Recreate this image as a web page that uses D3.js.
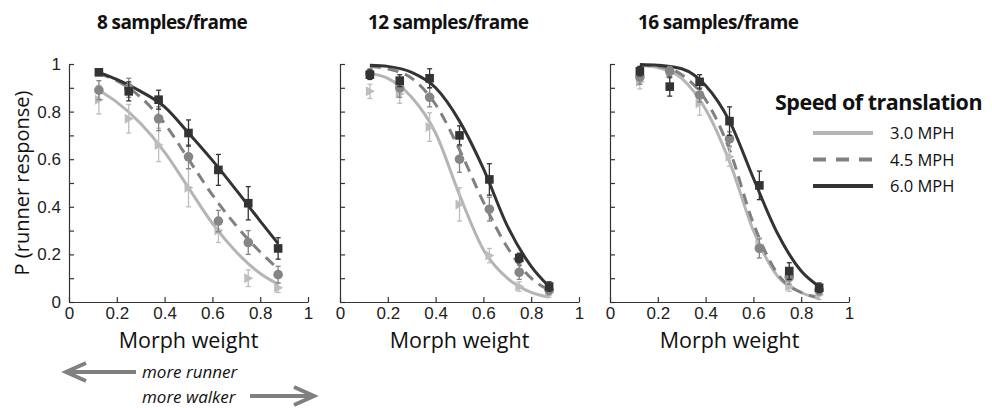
<!DOCTYPE html>
<html>
<head>
<meta charset="utf-8">
<script src="https://cdn.jsdelivr.net/npm/d3@7"></script>
<style>
  body { margin: 0; background: #fff; }
  svg { font-family: "Open Sans", "Noto Sans", sans-serif; }
</style>
</head>
<body>
<div id="chart"></div>
<script>
// morph weights where observers were tested
const morphX = [0.125, 0.25, 0.375, 0.5, 0.625, 0.75, 0.875];
// points
const fitX = [0.125, 0.2, 0.3, 0.4, 0.5, 0.6, 0.7, 0.8, 0.875];
const panelTitles = ["8 samples/frame", "12 samples/frame", "16 samples/frame"];
const speeds = ["3.0 MPH", "4.5 MPH", "6.0 MPH"];
const tickLabels = [0, 0.2, 0.4, 0.6, 0.8, 1];

// 8 samples/frame
const mean8_30 = [0.85, 0.77, 0.66, 0.48, 0.30, 0.10, 0.06];
const err8_30 = [0.06, 0.06, 0.07, 0.08, 0.05, 0.035, 0.02];
const mean8_45 = [0.89, 0.90, 0.77, 0.61, 0.34, 0.25, 0.115];
const err8_45 = [0.04, 0.04, 0.05, 0.05, 0.045, 0.05, 0.035];
const mean8_60 = [0.965, 0.885, 0.85, 0.71, 0.555, 0.415, 0.225];
const err8_60 = [0.01, 0.04, 0.04, 0.055, 0.065, 0.07, 0.045];
const fit8_30 = [0.89, 0.84, 0.75, 0.63, 0.48, 0.33, 0.21, 0.12, 0.075];
const fit8_45 = [0.96, 0.93, 0.86, 0.75, 0.60, 0.45, 0.32, 0.21, 0.14];
const fit8_60 = [0.965, 0.935, 0.885, 0.82, 0.71, 0.595, 0.47, 0.34, 0.245];

// 12 samples/frame
const mean12_30 = [0.885, 0.875, 0.735, 0.41, 0.195, 0.065, 0.04];
const err12_30 = [0.03, 0.04, 0.06, 0.07, 0.03, 0.02, 0.02];
const mean12_45 = [0.96, 0.90, 0.86, 0.60, 0.39, 0.125, 0.05];
const err12_45 = [0.02, 0.04, 0.04, 0.055, 0.05, 0.03, 0.02];
const mean12_60 = [0.955, 0.93, 0.94, 0.70, 0.515, 0.185, 0.065];
const err12_60 = [0.02, 0.025, 0.04, 0.04, 0.066, 0.02, 0.02];
const fit12_30 = [0.96, 0.94, 0.86, 0.71, 0.45, 0.22, 0.10, 0.04, 0.02];
const fit12_45 = [0.99, 0.98, 0.94, 0.83, 0.64, 0.42, 0.23, 0.10, 0.05];
const fit12_60 = [0.995, 0.99, 0.965, 0.90, 0.76, 0.56, 0.32, 0.15, 0.065];

// 16 samples/frame
const mean16_30 = [0.925, 0.96, 0.835, 0.61, 0.24, 0.065, 0.03];
const err16_30 = [0.03, 0.02, 0.05, 0.04, 0.03, 0.02, 0.02];
const mean16_45 = [0.945, 0.97, 0.87, 0.685, 0.225, 0.105, 0.05];
const err16_45 = [0.03, 0.02, 0.03, 0.03, 0.04, 0.03, 0.02];
const mean16_60 = [0.97, 0.905, 0.925, 0.76, 0.49, 0.13, 0.06];
const err16_60 = [0.02, 0.04, 0.03, 0.06, 0.06, 0.035, 0.02];
const fit16_30 = [0.995, 0.985, 0.94, 0.81, 0.59, 0.30, 0.11, 0.04, 0.015];
const fit16_45 = [0.995, 0.99, 0.955, 0.85, 0.64, 0.33, 0.12, 0.04, 0.02];
const fit16_60 = [0.998, 0.995, 0.98, 0.91, 0.76, 0.52, 0.29, 0.13, 0.065];

const panels = [
    { means: [mean8_30, mean8_45, mean8_60], errs: [err8_30, err8_45, err8_60], fits: [fit8_30, fit8_45, fit8_60] },
    { means: [mean12_30, mean12_45, mean12_60], errs: [err12_30, err12_45, err12_60], fits: [fit12_30, fit12_45, fit12_60] },
    { means: [mean16_30, mean16_45, mean16_60], errs: [err16_30, err16_45, err16_60], fits: [fit16_30, fit16_45, fit16_60] }
];

const lineColors = ["#b5b5b5", "#808080", "#333333"];
const markColors = ["#bdbdbd", "#858585", "#333333"];
const dashes = [null, "11,7", null];

const W = 992, H = 408;
const panelLeft = [69, 340, 610];
const pw = 239, plotTop = 64, plotBottom = 302;

const svg = d3.select("#chart").append("svg")
    .attr("width", W)
    .attr("height", H);

const y = d3.scaleLinear().domain([0, 1]).range([plotBottom, plotTop]);
const fmt = v => String(+v.toFixed(1));

panels.forEach((p, pi) => {
    const x = d3.scaleLinear().domain([0, 1]).range([panelLeft[pi], panelLeft[pi] + pw]);
    const g = svg.append("g");

    // axes (ticks point inward like the original)
    const yAxis = d3.axisLeft(y)
        .tickValues(d3.range(0, 11).map(i => i / 10))
        .tickSizeInner(-5).tickSizeOuter(0).tickPadding(8)
        .tickFormat(v => (pi === 0 && Math.round(v * 10) % 2 === 0) ? fmt(v) : "");
    g.append("g")
        .attr("transform", `translate(${panelLeft[pi]},0)`)
        .call(yAxis);

    const xAxis = d3.axisBottom(x)
        .tickValues(tickLabels)
        .tickSizeInner(-5).tickSizeOuter(0).tickPadding(5)
        .tickFormat(fmt);
    g.append("g")
        .attr("transform", `translate(0,${plotBottom})`)
        .call(xAxis);

    g.selectAll(".domain, .tick line").attr("stroke", "#333").attr("stroke-width", 1.2);
    g.selectAll(".tick text").attr("font-size", 17).attr("fill", "#222");

    // fitted curves
    const line = d3.line()
        .x((d, i) => x(fitX[i]))
        .y(d => y(d))
        .curve(d3.curveMonotoneX);
    p.fits.forEach((f, s) => {
        g.append("path")
            .attr("d", line(f))
            .attr("fill", "none")
            .attr("stroke", lineColors[s])
            .attr("stroke-width", 3)
            .attr("stroke-dasharray", dashes[s]);
    });

    // error bars + markers
    p.means.forEach((m, s) => {
        const eg = g.append("g").attr("stroke", markColors[s]).attr("stroke-width", 1.3);
        m.forEach((v, i) => {
            const cx = x(morphX[i]);
            const e = p.errs[s][i];
            eg.append("line").attr("x1", cx).attr("x2", cx).attr("y1", y(v - e)).attr("y2", y(v + e));
            eg.append("line").attr("x1", cx - 2.5).attr("x2", cx + 2.5).attr("y1", y(v - e)).attr("y2", y(v - e));
            eg.append("line").attr("x1", cx - 2.5).attr("x2", cx + 2.5).attr("y1", y(v + e)).attr("y2", y(v + e));
        });
        const mg = g.append("g").attr("fill", markColors[s]);
        m.forEach((v, i) => {
            const cx = x(morphX[i]), cy = y(v);
            if (s === 0) {
                mg.append("path").attr("d", `M${cx - 4},${cy - 5}L${cx + 5},${cy}L${cx - 4},${cy + 5}Z`);
            } else if (s === 1) {
                mg.append("circle").attr("cx", cx).attr("cy", cy).attr("r", 4.8);
            } else {
                mg.append("rect").attr("x", cx - 4.3).attr("y", cy - 4.3).attr("width", 8.6).attr("height", 8.6);
            }
        });
    });

    // titles and x label
    svg.append("text")
        .attr("x", panelLeft[pi] + 28).attr("y", 29)
        .attr("font-size", 19).attr("font-weight", "bold")
        .attr("letter-spacing", -0.6)
        .attr("fill", "#111")
        .text(panelTitles[pi]);
    svg.append("text")
        .attr("x", panelLeft[pi] + pw / 2).attr("y", 348)
        .attr("text-anchor", "middle")
        .attr("font-size", 21.5).attr("fill", "#111")
        .text("Morph weight");
});

// y label
svg.append("text")
    .attr("transform", `translate(29,${(plotTop + plotBottom) / 2}) rotate(-90)`)
    .attr("text-anchor", "middle")
    .attr("font-size", 20).attr("fill", "#111")
    .text("P (runner response)");

// legend
const leg = svg.append("g");
leg.append("text")
    .attr("x", 775).attr("y", 110)
    .attr("font-size", 21.5).attr("font-weight", "bold")
    .attr("letter-spacing", -0.5)
    .attr("fill", "#111")
    .text("Speed of translation");
speeds.forEach((s, i) => {
    const ly = 133 + i * 26.5;
    leg.append("line")
        .attr("x1", 813).attr("x2", 873).attr("y1", ly).attr("y2", ly)
        .attr("stroke", lineColors[i]).attr("stroke-width", 4)
        .attr("stroke-dasharray", i === 1 ? "13,10" : null);
    leg.append("text")
        .attr("x", 890).attr("y", ly + 6)
        .attr("font-size", 16.5).attr("fill", "#111")
        .text(s);
});

// direction arrows under the first panel
const arrowColor = "#808080";
const ann = svg.append("g");
ann.append("line").attr("x1", 66).attr("x2", 136).attr("y1", 372).attr("y2", 372)
    .attr("stroke", arrowColor).attr("stroke-width", 4);
ann.append("polyline").attr("points", "86,363 66,372 86,381")
    .attr("fill", "none").attr("stroke", arrowColor).attr("stroke-width", 4);
ann.append("text").attr("x", 142).attr("y", 378)
    .attr("font-size", 17).attr("font-style", "italic").attr("fill", "#111")
    .text("more runner");
ann.append("text").attr("x", 142).attr("y", 403)
    .attr("font-size", 17).attr("font-style", "italic").attr("fill", "#111")
    .text("more walker");
ann.append("line").attr("x1", 250).attr("x2", 314).attr("y1", 396).attr("y2", 396)
    .attr("stroke", arrowColor).attr("stroke-width", 4);
ann.append("polyline").attr("points", "294,387 314,396 294,405")
    .attr("fill", "none").attr("stroke", arrowColor).attr("stroke-width", 4);
</script>
</body>
</html>
